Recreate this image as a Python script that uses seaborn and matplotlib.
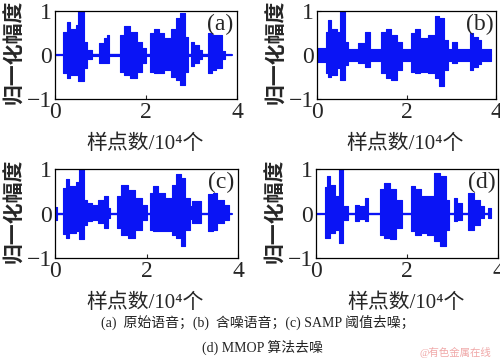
import seaborn as sns
import matplotlib.pyplot as plt
import pandas as pd, numpy as np

## ____data : envelope of the speech signals (x in 10^4 samples)
edges_a = [0.18, 0.26, 0.33, 0.46, 0.51, 0.63, 0.70, 0.81, 0.96, 1.07, 1.14, 1.19, 1.43, 1.51, 1.65, 1.80, 1.91, 1.99,
           2.08, 2.17, 2.28, 2.39, 2.54, 2.65, 2.74, 2.85, 2.93, 2.98, 3.05, 3.16, 3.24, 3.37, 3.46, 3.54, 3.66, 3.74]
top_a = [0.53, 0.75, 0.60, 0.68, 1.00, 0.30, 0.12, 0.03, 0.27, 0.38, 0.46, 0.02, 0.46, 0.65, 0.53, 0.30, 0.15, 0.03,
         0.50, 0.60, 0.50, 0.38, 0.60, 0.84, 0.95, 0.42, 0.03, 0.30, 0.23, 0.12, 0.02, 0.50, 0.46, 0.46, 0.08]
bot_a = [-0.42, -0.53, -0.46, -0.46, -0.60, -0.30, -0.08, -0.03, -0.19, -0.19, -0.19, -0.02, -0.38, -0.46, -0.53, -0.38,
         -0.19, -0.03, -0.38, -0.42, -0.42, -0.34, -0.50, -0.57, -0.68, -0.38, -0.03, -0.26, -0.19, -0.08, -0.02, -0.42,
         -0.34, -0.30, -0.08]

edges_b = [0.0, 0.20, 0.25, 0.31, 0.44, 0.51, 0.62, 0.70, 0.92, 1.07, 1.18, 1.44, 1.55, 1.66, 1.78, 1.89, 2.10, 2.19,
           2.30, 2.48, 2.63, 2.72, 2.84, 2.93, 3.02, 3.12, 3.41, 3.49, 3.60, 3.67, 3.88]
top_b = [0.15, 0.53, 0.80, 0.60, 0.53, 1.00, 0.30, 0.13, 0.27, 0.52, 0.13, 0.53, 0.60, 0.46, 0.30, 0.13, 0.50, 0.60,
         0.38, 0.46, 0.88, 0.84, 0.34, 0.13, 0.30, 0.14, 0.50, 0.42, 0.34, 0.13]
bot_b = [-0.15, -0.42, -0.50, -0.46, -0.30, -0.57, -0.23, -0.13, -0.19, -0.27, -0.13, -0.42, -0.53, -0.57, -0.34, -0.13,
         -0.38, -0.42, -0.38, -0.42, -0.53, -0.70, -0.34, -0.13, -0.19, -0.14, -0.34, -0.27, -0.20, -0.13]

edges_c = [0.0, 0.04, 0.18, 0.25, 0.30, 0.45, 0.52, 0.63, 0.70, 0.80, 0.95, 1.07, 1.16, 1.20, 1.35, 1.45, 1.60, 1.75,
           1.90, 2.00, 2.07, 2.15, 2.25, 2.40, 2.55, 2.65, 2.75, 2.85, 2.95, 3.00, 3.20, 3.35, 3.45, 3.55, 3.70, 3.80]
top_c = [0.15, 0.02, 0.57, 0.77, 0.62, 0.70, 1.00, 0.31, 0.23, 0.20, 0.31, 0.39, 0.13, 0.02, 0.39, 0.65, 0.53, 0.35,
         0.20, 0.02, 0.46, 0.62, 0.46, 0.35, 0.65, 0.88, 0.80, 0.35, 0.17, 0.27, 0.02, 0.43, 0.46, 0.31, 0.20]
bot_c = [-0.15, -0.02, -0.47, -0.55, -0.44, -0.40, -0.58, -0.25, -0.17, -0.14, -0.21, -0.32, -0.10, -0.02, -0.32, -0.48,
         -0.55, -0.36, -0.14, -0.02, -0.36, -0.40, -0.40, -0.40, -0.48, -0.55, -0.73, -0.36, -0.12, -0.21, -0.02, -0.40,
         -0.36, -0.21, -0.14]

edges_d = [0.20, 0.25, 0.30, 0.42, 0.50, 0.60, 0.70, 0.85, 0.95, 1.07, 1.15, 1.40, 1.50, 1.62, 1.75, 1.88, 2.08, 2.18,
           2.30, 2.45, 2.60, 2.72, 2.85, 2.92, 3.03, 3.10, 3.20, 3.35, 3.48, 3.60, 3.70, 3.77, 3.85]
top_d = [0.60, 0.84, 0.65, 0.39, 1.00, 0.17, 0.02, 0.20, 0.17, 0.35, 0.02, 0.54, 0.69, 0.54, 0.31, 0.02, 0.62, 0.54,
         0.39, 0.39, 0.92, 0.84, 0.31, 0.02, 0.35, 0.24, 0.02, 0.46, 0.31, 0.17, 0.02, 0.13]
bot_d = [-0.55, -0.55, -0.44, -0.36, -0.66, -0.14, -0.02, -0.17, -0.12, -0.17, -0.02, -0.48, -0.55, -0.58, -0.32, -0.02,
         -0.40, -0.48, -0.44, -0.48, -0.62, -0.73, -0.36, -0.02, -0.17, -0.14, -0.02, -0.36, -0.25, -0.10, -0.02, -0.10]

line_end = [3.90, 3.88, 3.87, 3.85]   # end of the zero line
panel_tags = ["(a)", "(b)", "(c)", "(d)"]
x_ticks = [0, 2, 4]
y_ticks = [-1, 0, 1]
ylab = "归一化幅度"
xlab = "样点数/10⁴个"
caption1 = "(a)  原始语音；(b)  含噪语音；(c) SAMP 阈值去噪；"
caption2 = "(d) MMOP 算法去噪"
mark = "@有色金属在线"

## ____style
sns.set_theme(style="ticks")
cjk = ['Liberation Serif', 'Noto Sans CJK SC', 'DejaVu Sans']
plt.rcParams['font.family'] = cjk
plt.rcParams['axes.unicode_minus'] = True
blue = "#0a14f5"

fig = plt.figure(figsize=(5, 3.62), dpi=100)
W, H = 500., 362.
# boxes in pixels: left, top, right, bottom
boxes = [(55, 11, 237, 99), (317, 11, 496, 99), (55, 169, 238, 258), (316, 169, 498, 258)]
panels = [(edges_a, top_a, bot_a), (edges_b, top_b, bot_b), (edges_c, top_c, bot_c), (edges_d, top_d, bot_d)]

for i, (box, (ed, tp, bt)) in enumerate(zip(boxes, panels)):
    l, t, r, b = box
    ax = fig.add_axes([l / W, 1 - b / H, (r - l) / W, (b - t) / H])
    # zero line
    zl = pd.DataFrame({"x": [0, line_end[i]], "y": [0, 0]})
    sns.lineplot(data=zl, x="x", y="y", ax=ax, color=blue, lw=1.6)
    # envelope as steps
    ax.fill_between(ed, tp + [tp[-1]], bt + [bt[-1]], step="post", color=blue, lw=0.8, edgecolor=blue)
    ax.set_xlim(0, 4)
    ax.set_ylim(-1, 1)
    ax.set_xticks(x_ticks)
    ax.set_yticks(y_ticks)
    ax.tick_params(direction="in", length=3, width=0.8, labelsize=17, pad=2)
    for s in ax.spines.values():
        s.set_linewidth(0.9)
        s.set_color("black")
        s.set_visible(True)
    ax.set_xlabel("")
    ax.set_ylabel("")
    ax.text(0.91, 0.85, panel_tags[i], transform=ax.transAxes, ha="center", va="center", fontsize=17)
    # labels
    cx = (l + r) / 2.
    fig.text((cx - 1) / W, 1 - (b + 45) / H, xlab, ha="center", va="center", fontsize=15, family=cjk)
    fig.text((l - 40) / W, 1 - (t + b - 6) / 2. / H, ylab, ha="center", va="center", rotation=90,
             fontsize=15, family=cjk, fontweight="bold")

fig.text(258 / W, 1 - 322 / H, caption1, ha="center", va="center", fontsize=10, family=cjk, color="#222222")
fig.text(262 / W, 1 - 347 / H, caption2, ha="center", va="center", fontsize=10, family=cjk, color="#222222")
fig.text(455 / W, 1 - 352 / H, mark, ha="center", va="center", fontsize=7.5, family=cjk, color="#f0a8a8")

plt.savefig("out.png", dpi=100)
